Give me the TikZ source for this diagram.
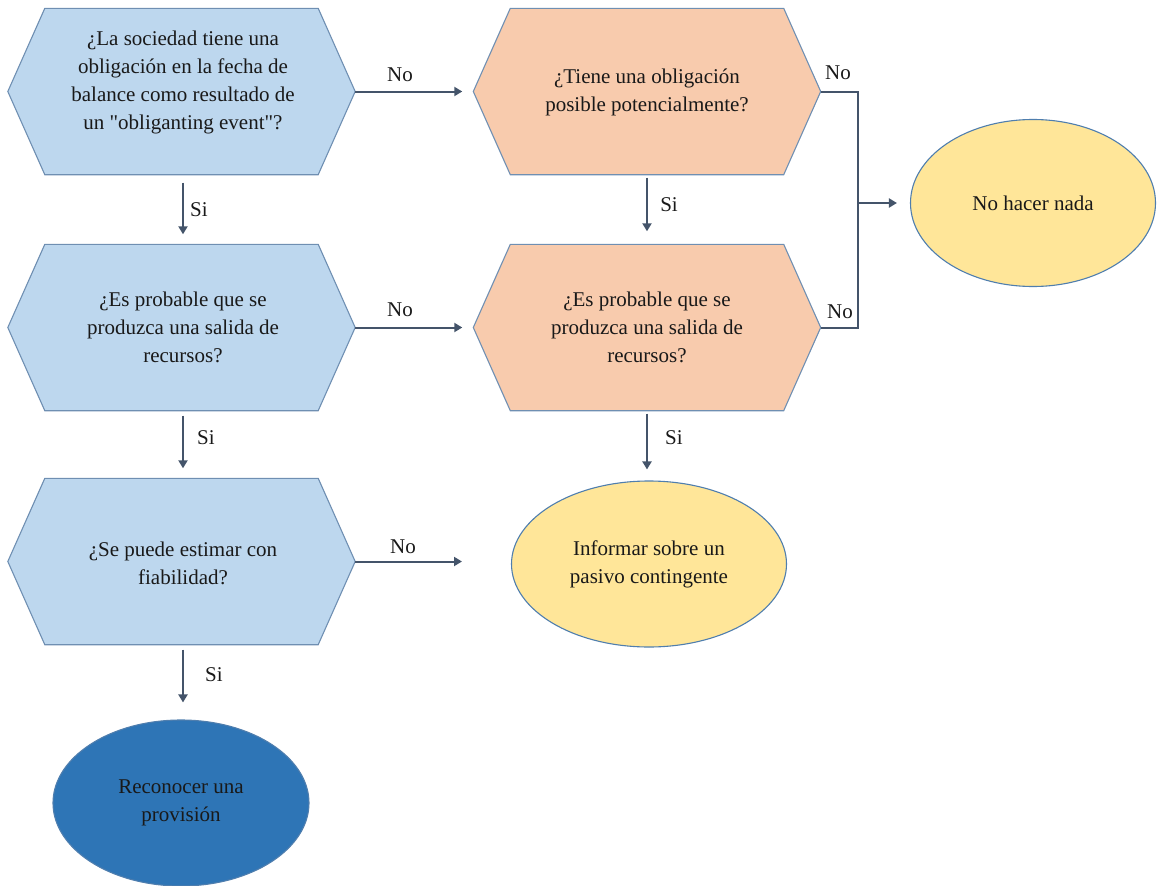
\documentclass[tikz,border=0pt]{standalone}
\usepackage{fontspec}
\setmainfont{Liberation Serif}[Ligatures=TeXOff]
\usetikzlibrary{arrows.meta,calc,shapes.geometric}
\definecolor{hblue}{HTML}{BDD7EE}
\definecolor{horange}{HTML}{F8CBAD}
\definecolor{hyellow}{HTML}{FFE699}
\definecolor{hdark}{HTML}{2E75B6}
\definecolor{hborder}{HTML}{6F8FB2}
\definecolor{eborder}{HTML}{4F7EAE}
\definecolor{arrcol}{HTML}{44546A}
\newcommand\hexpath[1]{(#1.west) -- ($(#1.north west)+(37,0)$) -- ($(#1.north east)+(-37,0)$) -- (#1.east) -- ($(#1.south east)+(-37,0)$) -- ($(#1.south west)+(37,0)$) -- cycle}
\begin{document}
\begin{tikzpicture}[x=1pt,y=-1pt,
  hexframe/.style={rectangle,draw=none,minimum width=347pt,minimum height=166pt,inner sep=0pt},
  hexline/.style={draw=hborder,line width=1.1pt},
  txt/.style={align=center,font=\fontsize{21pt}{28pt}\selectfont,text=black!90,inner sep=0pt},
  ell/.style={ellipse,draw=eborder,line width=1.1pt,inner sep=0pt},
  lbl/.style={font=\fontsize{21pt}{28pt}\selectfont,text=black!90,inner sep=0pt},
  arr/.style={draw=arrcol,line width=2pt,-{Triangle[length=8pt,width=9pt]}},
  conn/.style={draw=arrcol,line width=2pt}]
\useasboundingbox (0,0) rectangle (1157,886);
% hexagon frames
\node[hexframe] (h1) at (181.5,91.5) {};
\node[hexframe] (h2) at (647,91.5) {};
\node[hexframe] (h3) at (181.5,327.5) {};
\node[hexframe] (h4) at (647,327.5) {};
\node[hexframe] (h5) at (181.5,561.5) {};
\filldraw[hexline,fill=hblue] \hexpath{h1};
\filldraw[hexline,fill=horange] \hexpath{h2};
\filldraw[hexline,fill=hblue] \hexpath{h3};
\filldraw[hexline,fill=horange] \hexpath{h4};
\filldraw[hexline,fill=hblue] \hexpath{h5};
% texts
\node[txt] (t1) at (183,82) {¿La sociedad tiene una\\obligación en la fecha de\\balance como resultado de\\un "obliganting event"?};
\node[txt] (t2) at (647,92) {¿Tiene una obligación\\posible potencialmente?};
\node[txt] (t3) at (183,327) {¿Es probable que se\\produzca una salida de\\recursos?};
\node[txt] (t4) at (647,327) {¿Es probable que se\\produzca una salida de\\recursos?};
\node[txt] (t5) at (183,563) {¿Se puede estimar con\\fiabilidad?};
% ellipses
\node[ell,fill=hdark,minimum width=256pt,minimum height=166pt] (e1) at (181,803) {};
\node[txt] at (e1) {Reconocer una\\provisión};
\node[ell,fill=hyellow,minimum width=275pt,minimum height=166pt] (e2) at (649,564) {};
\node[txt] at (e2) {Informar sobre un\\pasivo contingente};
\node[ell,fill=hyellow,minimum width=245pt,minimum height=167pt] (e3) at (1033,203) {};
\node[txt] at (e3) {No hacer nada};
% connectors
\draw[arr] ([xshift=1.5pt,yshift=-8pt]h1.south) -- ([xshift=1.5pt,yshift=10pt]h3.north);
\draw[arr] ([xshift=1.5pt,yshift=-5pt]h3.south) -- ([xshift=1.5pt,yshift=10pt]h5.north);
\draw[arr] ([xshift=1.5pt,yshift=-5pt]h5.south) -- ([xshift=2pt,yshift=17pt]e1.north);
\draw[arr,shorten >=11pt] (h1.east) -- (h2.west);
\draw[arr,shorten >=11pt] (h3.east) -- (h4.west);
\coordinate (c5) at (462,561.5);
\draw[arr] (h5.east) -- (c5);
\draw[arr] ([yshift=-3pt]h2.south) -- ([yshift=13pt]h4.north);
\draw[arr] ([yshift=-3pt]h4.south) -- ([xshift=-2pt,yshift=11pt]e2.north);
\coordinate (j) at (858,203);
\draw[conn] (h2.east) -| (j) |- (h4.east);
\draw[arr,shorten >=13pt] (j) -- (e3.west);
% labels
\node[lbl] at (400,75) {No};
\node[lbl] at (400,310) {No};
\node[lbl] at (403,547) {No};
\node[lbl] at (838,73) {No};
\node[lbl] at (840,312) {No};
\node[lbl] at (199,210) {Si};
\node[lbl] at (206,438) {Si};
\node[lbl] at (214,675) {Si};
\node[lbl] at (669,205) {Si};
\node[lbl] at (674,438) {Si};
\end{tikzpicture}
\end{document}
